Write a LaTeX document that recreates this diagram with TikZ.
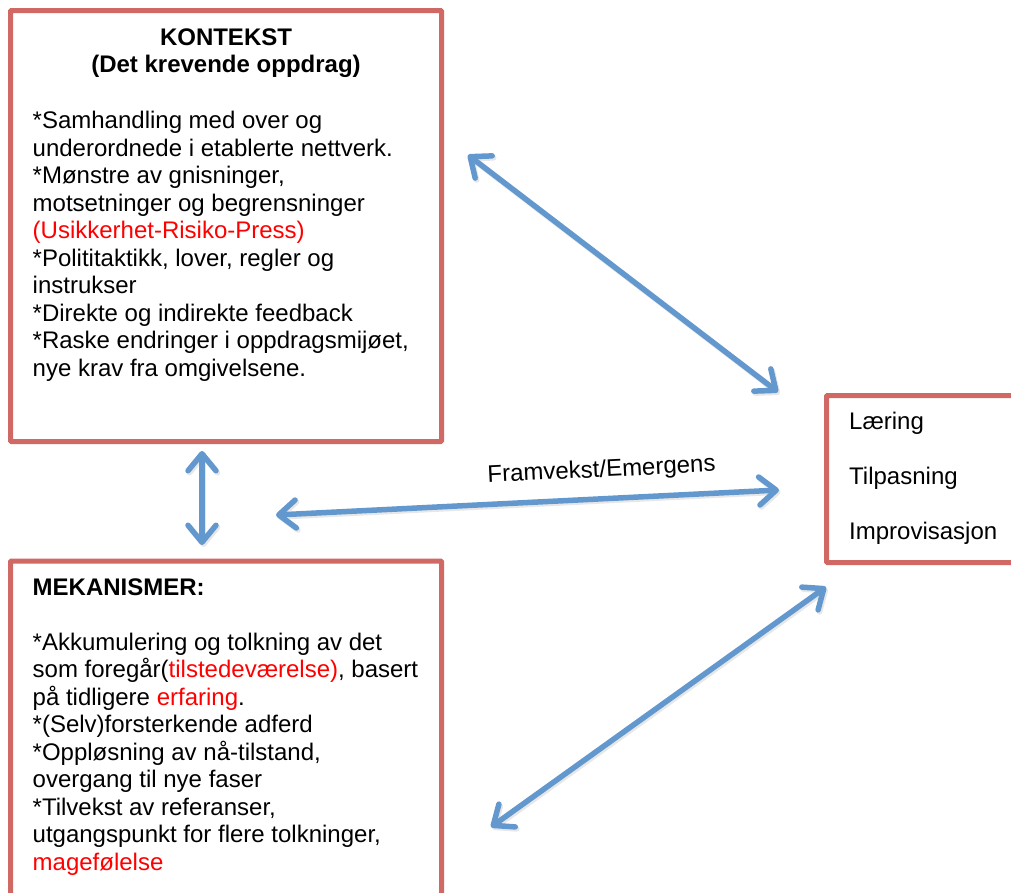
\documentclass[tikz,border=0pt]{standalone}
\usepackage{fontspec}
\setmainfont{Liberation Sans}
\usetikzlibrary{arrows.meta}
\definecolor{boxred}{RGB}{208,104,100}
\definecolor{arrowblue}{RGB}{99,152,206}
\definecolor{txtred}{RGB}{255,0,0}
\tikzset{
  box/.style={draw=boxred, line width=5pt, rounded corners=1pt, fill=white},
  body/.style={align=left, inner sep=0pt, font=\fontsize{24}{27.5}\selectfont},
  ttl/.style={align=center, inner sep=0pt, font=\fontsize{24}{27.5}\selectfont\bfseries},
  barb/.tip={Straight Barb[length=17pt, width=28pt, round]},
  link/.style={draw=arrowblue, line width=5.5pt, barb-barb,
    preaction={draw=black!30, opacity=0.3, line width=5.5pt, transform canvas={shift={(1.5pt,-2pt)}}, barb-barb}},
}
\begin{document}
\begin{tikzpicture}[x=1pt, y=-1pt]
\clip (0,0) rectangle (1011,892);
\fill[white] (0,0) rectangle (1011,892);
% boxes
\draw[box] (10.5,10.5) rectangle (441.5,441.5);
\node[inner sep=0pt] (ctx) at (226,226) {};
\draw[box] (10.5,561) rectangle (441.5,905);
\node[inner sep=0pt] (mek) at (226,730) {};
\draw[box] (826.5,395.5) rectangle (1025,562.5);
\node[inner sep=0pt] (res) at (918,479) {};
% texts (base anchor = baseline of last line)
\node[ttl, anchor=base] (ctxtitle) at (226,72.5) {KONTEKST\\(Det krevende oppdrag)};
\node[body, anchor=base west] (ctxbody) at (32.5,376) {*Samhandling med over og\\
underordnede i etablerte nettverk.\\
*Mønstre av gnisninger,\\
motsetninger og begrensninger\\
\textcolor{txtred}{(Usikkerhet-Risiko-Press)}\\
*Polititaktikk, lover, regler og\\
instrukser\\
*Direkte og indirekte feedback\\
*Raske endringer i oppdragsmijøet,\\
nye krav fra omgivelsene.};
\node[ttl, anchor=base west] (mektitle) at (32.5,595) {MEKANISMER:};
\node[body, anchor=base west] (mekbody) at (32.5,870) {*Akkumulering og tolkning av det\\
som foregår(\textcolor{txtred}{tilstedeværelse)}, basert\\
på tidligere \textcolor{txtred}{erfaring}.\\
*(Selv)forsterkende adferd\\
*Oppløsning av nå-tilstand,\\
overgang til nye faser\\
*Tilvekst av referanser,\\
utgangspunkt for flere tolkninger,\\
\textcolor{txtred}{magefølelse}};
\node[body, anchor=base west] (r1) at (849,429) {Læring};
\node[body, anchor=base west] (r2) at (849,484) {Tilpasning};
\node[body, anchor=base west] (r3) at (849,539) {Improvisasjon};
% connector ends
\coordinate (a1s) at (468,155);
\coordinate (a1e) at (778,392);
\coordinate (a2s) at (202,451);
\coordinate (a2e) at (202,545);
\coordinate (a3s) at (276,515);
\coordinate (a3e) at (779,490);
\coordinate (a4s) at (826,587);
\coordinate (a4e) at (491,827);
% connectors
\draw[link] (a1s) -- (a1e);
\draw[link] (a2s) -- (a2e);
\draw[link] (a3s) -- node[pos=0.65, above=14pt, sloped, inner sep=0pt, font=\fontsize{24}{27.5}\selectfont] (lbl) {Framvekst/Emergens} (a3e);
\draw[link] (a4s) -- (a4e);
\end{tikzpicture}
\end{document}
